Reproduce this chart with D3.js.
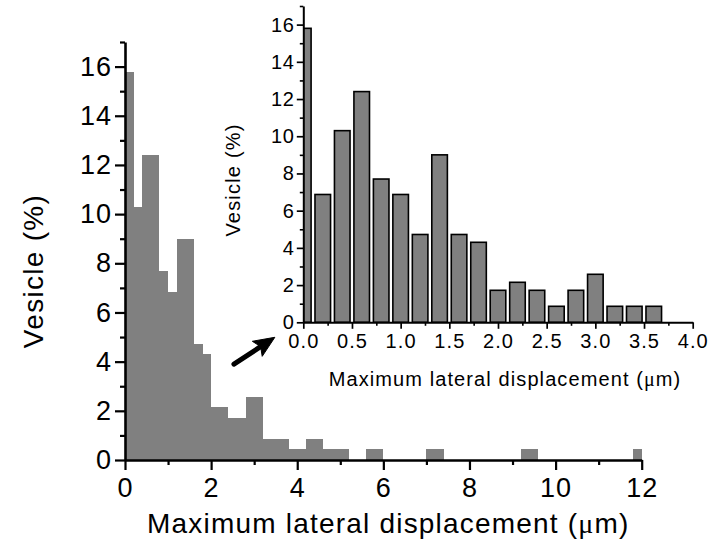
<!DOCTYPE html>
<html><head><meta charset="utf-8">
<script src="https://cdn.jsdelivr.net/npm/d3@7"></script>
<style>
body{margin:0;background:#fff;}
svg{display:block;font-family:"Liberation Sans",Arial,sans-serif;}
</style></head><body>
<svg id="c" width="714" height="557"></svg>
<script>
// ---------- data ----------
// Main histogram (bin start, bin end, percent of vesicles)
const mainBinStart = [0.0,0.2,0.4,0.8,1.0,1.2,1.6,1.8,2.0,2.4,2.8,3.2,3.8,4.2,4.6,5.6,7.0,9.2,11.8];
const mainBinEnd   = [0.2,0.4,0.8,1.0,1.2,1.6,1.8,2.0,2.4,2.8,3.2,3.8,4.2,4.6,5.2,6.0,7.4,9.6,12.0];
const mainPercent  = [15.8,10.3,12.4,7.7,6.85,9.0,4.72,4.3,2.15,1.72,2.58,0.86,0.43,0.86,0.43,0.43,0.43,0.43,0.43];
// Inset histogram (bin centre, percent)
const insetCenters = [0.0,0.2,0.4,0.6,0.8,1.0,1.2,1.4,1.6,1.8,2.0,2.2,2.4,2.6,2.8,3.0,3.2,3.4,3.6];
const insetPercent = [15.8,6.87,10.3,12.4,7.7,6.87,4.72,9.0,4.72,4.3,1.72,2.15,1.72,0.86,1.72,2.58,0.86,0.86,0.86];
const mainXTicks = [0,2,4,6,8,10,12];
const mainYTicks = [0,2,4,6,8,10,12,14,16];
const insetXTicks = [0,0.5,1.0,1.5,2.0,2.5,3.0,3.5,4.0];
const insetYTicks = [0,2,4,6,8,10,12,14,16];
const xTitle = "Maximum lateral displacement (";
const yTitle = "Vesicle (%)";

const svg = d3.select("#c");
const BAR = "#808080";

// ---------- main chart ----------
const mx = d3.scaleLinear().domain([0,12]).range([125,641.7]);
const my = d3.scaleLinear().domain([0,17]).range([460,42]);
const main = svg.append("g");

main.selectAll("rect.m").data(mainPercent).join("rect")
  .attr("class","m")
  .attr("x",(d,i)=>mx(mainBinStart[i]))
  .attr("width",(d,i)=>mx(mainBinEnd[i])-mx(mainBinStart[i]))
  .attr("y",d=>my(d))
  .attr("height",d=>my(0)-my(d))
  .attr("fill",BAR).attr("shape-rendering","crispEdges");

function styleAxis(g,sw,fs,ls){
  g.select(".domain").attr("stroke","#000").attr("stroke-width",sw);
  g.selectAll(".tick line").attr("stroke","#000").attr("stroke-width",sw*0.85);
  g.selectAll(".tick text").attr("fill","#000").attr("font-size",fs).attr("letter-spacing",ls)
   .attr("font-family","'Liberation Sans',Arial,sans-serif");
}
// minor ticks
main.append("g").attr("transform",`translate(0,${my(0)})`)
  .call(d3.axisBottom(mx).tickValues(d3.range(1,12,2)).tickSize(5).tickFormat("").tickSizeOuter(0))
  .call(g=>{g.select(".domain").remove();g.selectAll("line").attr("stroke","#000").attr("stroke-width",2.2);});
main.append("g").attr("transform",`translate(${mx(0)},0)`)
  .call(d3.axisLeft(my).tickValues(d3.range(1,18,2)).tickSize(5).tickFormat("").tickSizeOuter(0))
  .call(g=>{g.select(".domain").remove();g.selectAll("line").attr("stroke","#000").attr("stroke-width",2.2);});
// major
main.append("g").attr("transform",`translate(0,${my(0)})`)
  .call(d3.axisBottom(mx).tickValues(mainXTicks).tickSize(10).tickPadding(8).tickSizeOuter(0).tickFormat(d3.format("d")))
  .call(g=>styleAxis(g,2.6,27,1));
main.append("g").attr("transform",`translate(${mx(0)},0)`)
  .call(d3.axisLeft(my).tickValues(mainYTicks).tickSize(10).tickPadding(3).tickSizeOuter(0).tickFormat(d3.format("d")))
  .call(g=>styleAxis(g,2.6,27,1));

// titles
const mt = main.append("text").attr("x",(mx(0)+mx(12))/2+5).attr("y",533)
  .attr("text-anchor","middle").attr("font-size",28).attr("letter-spacing",1.2).text(xTitle);
mt.append("tspan").attr("font-family","'Liberation Serif',serif").text("\u03bc");
mt.append("tspan").text("m)");
main.append("text").attr("transform",`translate(43,${(my(0)+my(17))/2+20}) rotate(-90)`)
  .attr("text-anchor","middle").attr("font-size",28).attr("letter-spacing",1.3).text(yTitle);

// arrow annotation (in main-chart data units)
const arrFrom=[2.53,3.9], arrTip=[3.48,4.99];
const ax0=mx(arrFrom[0]), ay0=my(arrFrom[1]), ax1=mx(arrTip[0]), ay1=my(arrTip[1]);
const ang=Math.atan2(ay1-ay0,ax1-ax0), hl=21, hw=9;
const bx=ax1-hl*Math.cos(ang), by=ay1-hl*Math.sin(ang);
main.append("line").attr("x1",ax0).attr("y1",ay0).attr("x2",bx+3*Math.cos(ang)).attr("y2",by+3*Math.sin(ang))
  .attr("stroke","#000").attr("stroke-width",5).attr("stroke-linecap","round");
main.append("path").attr("d",d3.line()([[ax1,ay1],[bx-hw*Math.sin(ang),by+hw*Math.cos(ang)],[bx+4*Math.cos(ang),by+4*Math.sin(ang)],[bx+hw*Math.sin(ang),by-hw*Math.cos(ang)]])+"Z")
  .attr("fill","#000").attr("stroke","#000").attr("stroke-width",1).attr("stroke-linejoin","round");

// ---------- inset chart ----------
const ix = d3.scaleLinear().domain([0,4]).range([303.3,692.7]);
const iy = d3.scaleLinear().domain([0,17]).range([322.3,6]);
const ins = svg.append("g");
ins.append("clipPath").attr("id","iclip").append("rect")
  .attr("x",ix(0)).attr("y",0).attr("width",ix(4)-ix(0)).attr("height",iy(0));
const bw=0.16;
ins.append("g").attr("clip-path","url(#iclip)")
  .selectAll("rect").data(insetPercent).join("rect")
  .attr("x",(d,i)=>ix(insetCenters[i]-bw/2))
  .attr("width",ix(bw)-ix(0))
  .attr("y",d=>iy(d))
  .attr("height",d=>iy(0)-iy(d))
  .attr("fill",BAR).attr("stroke","#000").attr("stroke-width",1.6);

ins.append("g").attr("transform",`translate(0,${iy(0)})`)
  .call(d3.axisBottom(ix).tickValues(d3.range(0.25,4,0.5)).tickSize(3.5).tickFormat("").tickSizeOuter(0))
  .call(g=>{g.select(".domain").remove();g.selectAll("line").attr("stroke","#000").attr("stroke-width",1.6);});
ins.append("g").attr("transform",`translate(${ix(0)},0)`)
  .call(d3.axisLeft(iy).tickValues(d3.range(1,18,2)).tickSize(3.5).tickFormat("").tickSizeOuter(0))
  .call(g=>{g.select(".domain").remove();g.selectAll("line").attr("stroke","#000").attr("stroke-width",1.6);});
ins.append("g").attr("transform",`translate(0,${iy(0)})`)
  .call(d3.axisBottom(ix).tickValues(insetXTicks).tickSize(6.5).tickPadding(5).tickSizeOuter(0).tickFormat(d3.format(".1f")))
  .call(g=>styleAxis(g,2,20,1.1));
ins.append("g").attr("transform",`translate(${ix(0)},0)`)
  .call(d3.axisLeft(iy).tickValues(insetYTicks).tickSize(6.5).tickPadding(2).tickSizeOuter(0).tickFormat(d3.format("d")))
  .call(g=>styleAxis(g,2,20,0.8));

const it = ins.append("text").attr("x",(ix(0)+ix(4))/2+7).attr("y",386)
  .attr("text-anchor","middle").attr("font-size",20).attr("letter-spacing",1.1).text(xTitle);
it.append("tspan").attr("font-family","'Liberation Serif',serif").text("\u03bc");
it.append("tspan").text("m)");
ins.append("text").attr("transform",`translate(240,180) rotate(-90)`)
  .attr("text-anchor","middle").attr("font-size",20).attr("letter-spacing",1.2).text(yTitle);
</script>
</body></html>
